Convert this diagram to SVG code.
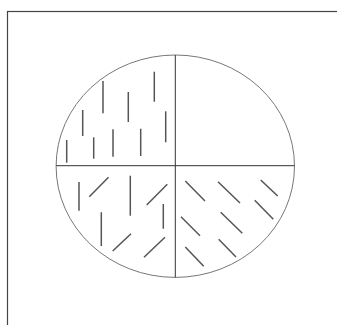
<svg xmlns="http://www.w3.org/2000/svg" width="337" height="325" viewBox="0 0 337 325">
<style>
.frame{fill:none;stroke:#444;stroke-width:1.2}
.ell{fill:none;stroke:#777;stroke-width:1}
.axis{stroke:#333;stroke-width:1}
.h{stroke:#555;stroke-width:1.5;stroke-linecap:butt}
</style>
<rect x="0" y="0" width="337" height="325" fill="#fff"/>
<rect class="frame" x="7.5" y="11.5" width="340" height="330"/>
<g id="circle">
<ellipse class="ell" cx="175.3" cy="166.2" rx="119.2" ry="111.2"/>
<line class="axis" x1="175.3" y1="55" x2="175.3" y2="277.4"/>
<line class="axis" x1="56.1" y1="165.7" x2="294.5" y2="165.7"/>
</g>
<g id="q-top-left">
<line class="h" x1="66.7" y1="140" x2="66.7" y2="162.7"/>
<line class="h" x1="82.7" y1="110" x2="82.7" y2="136"/>
<line class="h" x1="93.7" y1="137.3" x2="93.7" y2="158.7"/>
<line class="h" x1="103" y1="81" x2="103" y2="113.3"/>
<line class="h" x1="113" y1="129.3" x2="113" y2="156.7"/>
<line class="h" x1="128.3" y1="92" x2="128.3" y2="122"/>
<line class="h" x1="140.7" y1="128.7" x2="140.7" y2="156"/>
<line class="h" x1="154.3" y1="71.7" x2="154.3" y2="101.7"/>
<line class="h" x1="165.7" y1="111.3" x2="165.7" y2="142.3"/>
</g>
<g id="q-bottom-left">
<line class="h" x1="79" y1="182" x2="79" y2="210.7"/>
<line class="h" x1="130.3" y1="175.7" x2="130.3" y2="215.7"/>
<line class="h" x1="163.3" y1="204" x2="163.3" y2="228.7"/>
<line class="h" x1="101.3" y1="212.3" x2="101.3" y2="246"/>
<line class="h" x1="89.3" y1="196.7" x2="108.5" y2="177.3"/>
<line class="h" x1="146.7" y1="205" x2="167.3" y2="184.3"/>
<line class="h" x1="112.7" y1="251" x2="131" y2="233.7"/>
<line class="h" x1="144" y1="257.3" x2="165" y2="237.3"/>
</g>
<g id="q-bottom-right">
<line class="h" x1="185.3" y1="181" x2="205" y2="201"/>
<line class="h" x1="218" y1="181.7" x2="240" y2="203"/>
<line class="h" x1="260.7" y1="180" x2="277.7" y2="196"/>
<line class="h" x1="181" y1="216.7" x2="200" y2="235.7"/>
<line class="h" x1="220.7" y1="212.3" x2="242.3" y2="233.3"/>
<line class="h" x1="254.7" y1="200.3" x2="273.3" y2="219.3"/>
<line class="h" x1="185.3" y1="247" x2="203.7" y2="266.3"/>
<line class="h" x1="218.7" y1="239.3" x2="236" y2="257"/>
</g>
</svg>
